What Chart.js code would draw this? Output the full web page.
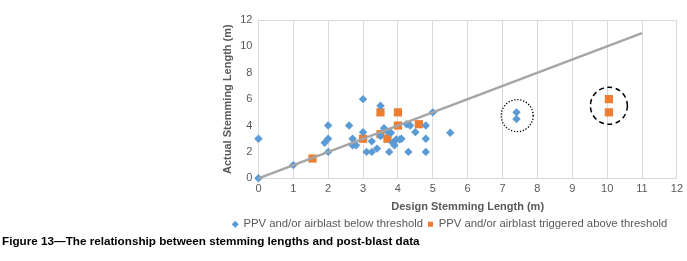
<!DOCTYPE html>
<html>
<head>
<meta charset="utf-8">
<script src="https://cdn.jsdelivr.net/npm/chart.js@4"></script>
<style>
  html, body { margin: 0; padding: 0; background: #fff; }
  #caption {
    position: absolute; left: 2px; top: 234px;
    font: bold 11.7px "Liberation Sans", Arial, sans-serif; color: #000;
    white-space: nowrap;
  }
</style>
</head>
<body>
<canvas id="chart" width="687" height="240"></canvas>
<div id="caption">Figure 13—The relationship between stemming lengths and post-blast data</div>
<script>
// design vs actual stemming (m)
const belowX = [0, 0, 1, 1.9, 2, 2, 2, 2.6, 2.7, 2.7, 2.8, 3, 3, 3.1, 3.25, 3.25, 3.4, 3.5, 3.5, 3.6, 3.7, 3.8, 3.75, 3.85, 3.9, 3.95, 4.05, 4.1, 4.25, 4.35, 4.3, 4.5, 4.8, 4.8, 4.8, 5, 5.5, 7.4, 7.4];
const belowY = [0, 3, 1, 2.7, 3, 2, 4, 4, 3, 2.5, 2.5, 6, 3.5, 2, 2, 2.8, 2.25, 5.5, 3.2, 3.8, 3.55, 3.45, 2, 2.7, 2.5, 2.95, 2.95, 3, 4.1, 4, 2, 3.5, 4, 3, 2, 5, 3.45, 5.0, 4.5];

const aboveX = [1.55, 3, 3.5, 3.5, 3.7, 4, 4, 4.6, 10.05, 10.05];
const aboveY = [1.5, 3, 5, 3.35, 3, 5, 4, 4.1, 6, 5];

// 1:1 reference line
const lineX = [0, 11];
const lineY = [0, 11];

const xTicks = [0, 12, 1];   // min, max, step
const yTicks = [0, 12, 2];

const seriesNames = ['PPV and/or airblast below threshold', 'PPV and/or airblast triggered above threshold'];

// circled groups: [x, y] centre in data units
const circled = [[7.42, 4.75], [10.05, 5.5]];

const toPts = (xs, ys) => xs.map((x, i) => ({ x: x, y: ys[i] }));

const font = "'Liberation Sans', Arial, sans-serif";

const circlesPlugin = {
  id: 'circles',
  afterDatasetsDraw(chart) {
    const { ctx, scales } = chart;
    const styles = [
      { r: 16, dash: [1.2, 1.8], width: 1.4 },
      { r: 18.5, dash: [5, 3.5], width: 1.5 }
    ];
    ctx.save();
    circled.forEach((c, i) => {
      const px = scales.x.getPixelForValue(c[0]);
      const py = scales.y.getPixelForValue(c[1]);
      ctx.beginPath();
      ctx.setLineDash(styles[i].dash);
      ctx.lineWidth = styles[i].width;
      ctx.strokeStyle = '#000';
      ctx.arc(px, py, styles[i].r, 0, Math.PI * 2);
      ctx.stroke();
    });
    ctx.restore();
  }
};

new Chart(document.getElementById('chart'), {
  type: 'scatter',
  data: {
    datasets: [
      {
        type: 'line',
        label: 'trend',
        data: toPts(lineX, lineY),
        borderColor: '#a5a5a5',
        borderWidth: 2.5,
        pointRadius: 0,
        fill: false,
        clip: false
      },
      {
        label: seriesNames[0],
        data: toPts(belowX, belowY),
        pointStyle: 'rectRot',
        pointRadius: 4.2,
        backgroundColor: '#5b9bd5',
        borderColor: '#5b9bd5',
        borderWidth: 0,
        clip: false
      },
      {
        label: seriesNames[1],
        data: toPts(aboveX, aboveY),
        pointStyle: 'rect',
        pointRadius: 5.8,
        backgroundColor: '#ed7d31',
        borderColor: '#ed7d31',
        borderWidth: 0,
        clip: false
      }
    ]
  },
  options: {
    responsive: false,
    animation: false,
    layout: { padding: { left: 217, right: 4, top: 20, bottom: 0 } },
    plugins: {
      tooltip: { enabled: false },
      legend: {
        position: 'bottom',
        labels: {
          filter: (item) => item.text !== 'trend',
          usePointStyle: true,
          boxWidth: 5,
          boxHeight: 5,
          padding: 5,
          color: '#595959',
          font: { family: font, size: 11.3 }
        }
      }
    },
    scales: {
      x: {
        type: 'linear',
        min: xTicks[0], max: xTicks[1],
        ticks: { stepSize: xTicks[2], color: '#595959', padding: 4, font: { family: font, size: 11 } },
        grid: { color: '#d9d9d9', drawTicks: false },
        border: { display: false },
        title: { display: true, text: 'Design Stemming Length (m)', color: '#595959', padding: { top: 1, bottom: 0 }, font: { family: font, size: 11, weight: 'bold' } }
      },
      y: {
        type: 'linear',
        min: yTicks[0], max: yTicks[1],
        ticks: { stepSize: yTicks[2], color: '#595959', padding: 6, font: { family: font, size: 11 } },
        grid: {
          drawTicks: false,
          color: (c) => (c.tick && (c.tick.value === yTicks[0] || c.tick.value === yTicks[1])) ? '#d9d9d9' : 'rgba(0,0,0,0)'
        },
        border: { display: false },
        title: { display: true, text: 'Actual Stemming Length (m)', color: '#595959', padding: { top: 4, bottom: 0 }, font: { family: font, size: 11, weight: 'bold' } }
      }
    }
  },
  plugins: [circlesPlugin]
});
</script>
</body>
</html>
